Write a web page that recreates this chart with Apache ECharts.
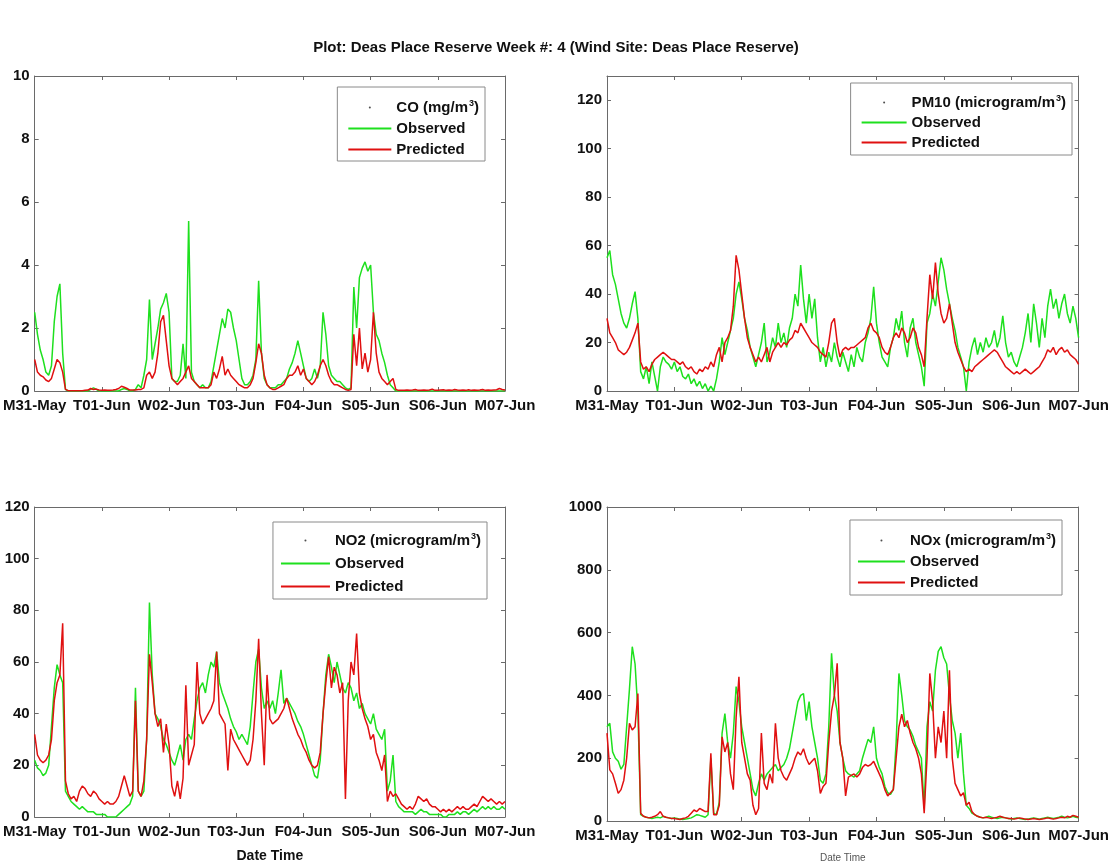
<!DOCTYPE html>
<html><head><meta charset="utf-8">
<script src="https://cdn.jsdelivr.net/npm/echarts@6/dist/echarts.min.js"></script>
<style>html,body{margin:0;padding:0;background:#fff}#c{width:1112px;height:864px}</style>
</head><body><div id="c"></div>
<script>
// x tick labels (one per day, every 24 hours)
const dayLabels = ['M31-May','T01-Jun','W02-Jun','T03-Jun','F04-Jun','S05-Jun','S06-Jun','M07-Jun'];

// hourly values, hour 0 .. 168
const coObserved = [
 2.5,1.8,1.3,1.0,0.6,0.5,0.8,2.2,3.0,3.4,1.2,0.05,
 0,0,0,0,0,0,0,0,0.05,0.1,0.05,0,
 0,0,0,0,0,0,0,0.05,0.08,0.05,0,0,
 0.05,0.2,0.1,0.5,1.0,2.9,1.0,1.5,2.0,2.6,2.8,3.1,
 2.5,0.4,0.3,0.3,0.5,1.5,0.4,5.4,0.6,0.3,0.2,0.1,
 0.2,0.1,0.1,0.3,0.8,1.3,1.8,2.3,2.0,2.6,2.5,2.0,
 1.6,1.0,0.4,0.2,0.2,0.3,0.5,1.0,3.5,1.2,0.4,0.2,
 0.1,0.1,0.1,0.2,0.2,0.3,0.4,0.7,0.9,1.2,1.6,1.2,
 0.8,0.4,0.3,0.4,0.7,0.4,0.8,2.5,1.8,0.8,0.5,0.4,
 0.3,0.3,0.2,0.1,0.05,0.1,3.3,2.0,3.6,3.9,4.1,3.8,
 4.0,2.5,1.8,1.6,1.2,0.9,0.5,0.2,0.1,0,0,0,
 0,0,0,0,0,0,0,0,0,0,0,0,
 0,0,0,0,0,0,0,0,0,0,0,0,
 0,0,0,0,0,0,0,0,0,0,0,0,
 0];
const coPredicted = [
 1.0,0.6,0.5,0.45,0.35,0.3,0.4,0.7,1.0,0.9,0.6,0.05,
 0.01,0.01,0.01,0.01,0.01,0.01,0.02,0.03,0.08,0.05,0.06,0.03,
 0.02,0.03,0.02,0.02,0.03,0.05,0.08,0.15,0.12,0.08,0.03,0.03,
 0.03,0.05,0.05,0.1,0.5,0.6,0.4,0.6,1.2,2.2,2.4,1.6,
 0.8,0.4,0.3,0.2,0.3,0.4,0.6,0.8,0.4,0.3,0.2,0.1,
 0.1,0.1,0.1,0.2,0.6,0.4,0.7,1.1,0.5,0.7,0.5,0.4,
 0.3,0.2,0.15,0.1,0.1,0.2,0.4,0.9,1.5,1.2,0.5,0.2,
 0.1,0.05,0.05,0.1,0.15,0.2,0.4,0.5,0.5,0.6,0.8,0.5,
 0.7,0.4,0.3,0.2,0.3,0.5,0.8,1.0,0.8,0.5,0.3,0.2,
 0.2,0.15,0.1,0.05,0.02,0.05,1.8,0.8,2.0,0.7,1.2,0.6,
 1.0,2.5,1.2,0.6,0.4,0.3,0.2,0.3,0.4,0.05,0.02,0.02,
 0.02,0.03,0.02,0.03,0.05,0.02,0.02,0.03,0.02,0.03,0.06,0.02,
 0.02,0.03,0.04,0.02,0.03,0.02,0.05,0.03,0.02,0.03,0.02,0.04,
 0.02,0.03,0.02,0.03,0.05,0.02,0.03,0.02,0.03,0.04,0.08,0.05,
 0.03];

const pm10Observed = [
 55,58,48,44,38,32,28,26,30,36,41,30,
 8,5,10,3,12,6,0,10,14,12,11,9,
 12,8,10,6,5,7,3,5,2,4,1,3,
 0,2,0,5,12,22,15,20,25,30,40,45,
 38,30,25,18,14,10,15,20,28,12,16,22,
 18,28,20,24,18,26,30,40,35,52,38,28,
 40,30,38,22,12,18,10,16,12,20,14,10,
 16,12,8,15,10,18,14,12,20,24,30,43,
 28,20,14,12,10,18,22,30,25,33,20,14,
 26,30,20,15,10,2,28,32,40,35,45,55,
 50,42,36,30,25,18,14,10,0,12,18,22,
 15,20,16,22,18,20,25,18,22,31,20,14,
 16,12,10,14,18,24,32,20,36,28,18,30,
 22,35,42,34,38,30,36,40,32,28,35,30,
 22];
const pm10Predicted = [
 30,24,22,20,17,16,15,16,18,21,24,28,
 12,9,10,8,11,13,14,15,16,15,14,13,
 13,12,11,12,10,9,10,8,7,9,8,10,
 9,12,10,15,18,12,20,22,25,35,56,50,
 40,30,22,18,15,12,14,12,15,18,12,16,
 18,20,18,20,19,21,22,25,24,28,26,24,
 22,20,19,18,16,15,14,20,28,30,20,14,
 17,18,17,18,18,19,20,21,22,26,28,25,
 24,22,18,16,15,18,22,24,22,26,24,20,
 22,26,24,18,15,10,30,48,38,53,40,32,
 28,30,36,28,20,16,13,10,8,9,8,10,
 11,12,13,14,15,16,17,16,14,12,10,9,
 8,7,8,7,8,9,8,7,8,9,10,12,
 14,17,16,18,15,17,18,16,17,15,14,13,
 11];

const no2Observed = [
 22,19,18,16,17,20,35,50,59,55,52,10,
 8,6,5,4,3,4,3,2,2,2,1,1,
 1,1,0,0,0,0,1,2,3,4,5,8,
 50,10,8,10,30,83,55,40,38,35,30,28,
 25,22,20,24,28,22,30,32,30,38,45,50,
 52,48,55,60,58,64,52,48,45,42,38,35,
 33,30,32,30,28,35,48,60,65,50,42,45,
 42,45,40,48,57,44,46,44,42,40,37,35,
 32,28,24,20,16,15,22,40,55,63,58,52,
 60,55,50,48,52,50,45,48,42,44,40,38,
 36,40,34,32,30,34,10,14,24,6,4,3,
 2,2,2,2,1,2,3,2,2,1,1,1,
 1,1,0,0,1,1,1,2,1,2,2,1,
 2,3,2,3,4,3,4,3,4,3,3,4,
 3];
const no2Predicted = [
 32,24,22,21,22,24,30,45,52,55,75,14,
 9,7,8,6,10,12,11,9,8,10,9,7,
 6,5,6,5,5,6,8,12,16,12,8,10,
 45,10,8,14,30,63,52,40,35,38,25,36,
 28,12,8,14,7,15,51,20,24,28,60,40,
 36,38,40,42,45,64,40,38,36,18,34,30,
 28,26,24,22,20,22,30,45,69,40,20,55,
 38,36,37,38,40,42,46,42,38,35,32,30,
 27,25,22,20,19,20,25,40,52,62,50,58,
 55,48,52,7,45,60,55,71,48,42,38,35,
 30,32,25,22,18,24,6,10,8,9,7,5,
 4,3,4,3,5,8,7,6,7,5,4,4,
 3,2,3,2,3,2,3,4,3,4,3,3,
 4,5,4,6,8,7,6,7,6,5,6,5,
 6];

const noxObserved = [
 300,311,220,200,190,165,180,300,420,555,500,350,
 20,15,12,10,8,10,12,10,15,12,10,8,
 10,8,6,5,6,8,10,15,20,18,15,12,
 20,200,25,20,60,280,342,250,200,280,428,380,
 300,250,200,150,100,80,120,150,130,150,160,170,
 180,160,170,180,200,230,280,330,380,400,406,320,
 380,300,250,200,130,120,150,300,534,400,350,250,
 200,160,150,145,140,150,160,200,230,260,250,300,
 200,170,150,110,90,85,100,250,470,400,320,300,
 290,270,240,220,200,40,300,380,350,480,540,555,
 520,500,400,320,280,200,280,150,50,40,25,20,
 15,12,10,12,15,12,10,8,10,12,10,8,
 6,8,10,8,6,5,6,8,10,8,6,8,
 10,12,10,8,10,12,15,12,10,12,15,12,
 10];
const noxPredicted = [
 280,163,150,120,88,100,130,200,311,290,300,406,
 25,15,12,10,12,15,20,30,15,12,10,8,
 8,6,5,8,10,15,25,35,30,40,35,30,
 30,216,20,20,50,268,220,250,150,100,330,459,
 250,200,150,130,50,20,40,280,120,100,150,120,
 311,200,160,140,130,150,170,200,220,210,230,200,
 180,190,200,160,88,110,120,250,350,400,502,250,
 200,80,140,145,150,140,150,170,180,175,180,190,
 170,150,130,100,80,90,100,200,300,340,300,320,
 280,250,230,200,150,25,200,470,380,200,300,250,
 350,200,480,200,120,100,80,90,50,60,30,20,
 15,12,10,12,10,8,10,12,15,12,10,8,
 8,6,8,10,8,6,5,6,8,6,5,6,
 8,10,8,6,8,10,12,10,15,12,18,15,
 12];

const pollutantNames = ['CO (mg/m3)','PM10 (microgram/m3)','NO2 (microgram/m3)','NOx (microgram/m3)'];
const yMax = [10, 130, 120, 1000];
const yStep = [2, 20, 20, 200];
const HOURS_PER_DAY = 24;
const TOTAL_HOURS = HOURS_PER_DAY * (dayLabels.length - 1);

const FONT = '"Liberation Sans", Arial, Helvetica, sans-serif';
const AXIS_COLOR = '#6a6a6a';
const OBS_COLOR = '#1ee01e';
const PRED_COLOR = '#e01010';

const panels = [
  {obs: coObserved, pred: coPredicted,
   grid: {left: 33, top: 76, width: 472, height: 315},
   legend: {right: 627, top: 87, itemWidth: 43, itemGap: 6, padding: [12, 6, 4, 11]}, xName: null},
  {obs: pm10Observed, pred: pm10Predicted,
   grid: {left: 607, top: 76, width: 473, height: 315},
   legend: {right: 40, top: 83, itemWidth: 45, itemGap: 5, padding: [11, 6, 5, 11]}, xName: null},
  {obs: no2Observed, pred: no2Predicted,
   grid: {left: 33, top: 507, width: 472, height: 314},
   legend: {right: 625, top: 522, itemWidth: 49, itemGap: 8, padding: [10, 6, 5, 8]},
   xName: {fontSize: 14, fontWeight: 'bold', color: '#111'}},
  {obs: noxObserved, pred: noxPredicted,
   grid: {left: 607, top: 507, width: 473, height: 314},
   legend: {right: 50, top: 520, itemWidth: 47, itemGap: 6, padding: [12, 6, 5, 8]},
   xName: {fontSize: 10, fontWeight: 'normal', color: '#555'}}
];

const grids = [], xAxes = [], yAxes = [], series = [], legends = [];
const toPairs = arr => arr.map((v, i) => [i, v]);

panels.forEach((p, g) => {
  grids.push(Object.assign({show: false}, p.grid));
  const xBase = {
    type: 'value', gridIndex: g, min: 0, max: TOTAL_HOURS, interval: HOURS_PER_DAY,
    splitLine: {show: false},
    axisLine: {show: true, onZero: false, lineStyle: {color: AXIS_COLOR, width: 1}},
    axisTick: {show: true, inside: true, length: 4, lineStyle: {color: AXIS_COLOR}}
  };
  const bottom = Object.assign({}, xBase, {
    position: 'bottom',
    axisLabel: {show: true, margin: 7, fontFamily: FONT, fontSize: 15, fontWeight: 'bold', color: '#111',
      showMinLabel: true, showMaxLabel: true,
      formatter: v => dayLabels[Math.round(v / HOURS_PER_DAY)] || ''}
  });
  if (p.xName) {
    bottom.name = 'Date Time';
    bottom.nameLocation = 'middle';
    bottom.nameGap = 32;
    bottom.nameTextStyle = Object.assign({fontFamily: FONT}, p.xName);
  }
  xAxes.push(bottom);
  xAxes.push(Object.assign({}, xBase, {position: 'top', axisLabel: {show: false}}));

  const yBase = {
    type: 'value', gridIndex: g, min: 0, max: yMax[g], interval: yStep[g],
    splitLine: {show: false},
    axisLine: {show: true, onZero: false, lineStyle: {color: AXIS_COLOR, width: 1}},
    axisTick: {show: true, inside: true, length: 4, lineStyle: {color: AXIS_COLOR}}
  };
  yAxes.push(Object.assign({}, yBase, {
    position: 'left',
    axisLabel: {show: true, margin: 5, fontFamily: FONT, fontSize: 15, fontWeight: 'bold', color: '#111',
      showMinLabel: true, showMaxLabel: yMax[g] % yStep[g] === 0,
      formatter: v => String(v)}
  }));
  yAxes.push(Object.assign({}, yBase, {position: 'right', axisLabel: {show: false}}));

  const xi = 2 * g, yi = 2 * g;
  series.push({
    name: pollutantNames[g], type: 'scatter', xAxisIndex: xi, yAxisIndex: yi,
    data: [], symbolSize: 3, itemStyle: {color: '#222'}
  });
  series.push({
    name: 'Observed', type: 'line', xAxisIndex: xi, yAxisIndex: yi,
    data: toPairs(p.obs), symbol: 'none', animation: false,
    lineStyle: {color: OBS_COLOR, width: 1.5}, itemStyle: {color: OBS_COLOR}, z: 2
  });
  series.push({
    name: 'Predicted', type: 'line', xAxisIndex: xi, yAxisIndex: yi,
    data: toPairs(p.pred), symbol: 'none', animation: false,
    lineStyle: {color: PRED_COLOR, width: 1.5}, itemStyle: {color: PRED_COLOR}, z: 3
  });

  legends.push(Object.assign({
    show: true, orient: 'vertical', align: 'left',
    itemHeight: 2, selectedMode: false,
    backgroundColor: '#fff', borderColor: '#8a8a8a', borderWidth: 1,
    data: [
      {name: pollutantNames[g], icon: 'circle', itemStyle: {color: '#222'}},
      {name: 'Observed', icon: 'rect'},
      {name: 'Predicted', icon: 'rect'}
    ],
    formatter: name => name.replace('m3)', 'm{sup|3})'),
    textStyle: {fontFamily: FONT, fontSize: 15, fontWeight: 'bold', color: '#111',
      rich: {sup: {fontFamily: FONT, fontSize: 9, fontWeight: 'bold', color: '#111', padding: [0, 0, 8, 1]}}}
  }, p.legend));
});

const chart = echarts.init(document.getElementById('c'), null, {renderer: 'canvas'});
chart.setOption({
  animation: false,
  backgroundColor: '#fff',
  title: {
    text: 'Plot: Deas Place Reserve Week #: 4 (Wind Site: Deas Place Reserve)',
    left: 'center', top: 35,
    textStyle: {fontFamily: FONT, fontSize: 15, fontWeight: 'bold', color: '#111'}
  },
  grid: grids,
  xAxis: xAxes,
  yAxis: yAxes,
  legend: legends,
  series: series
});
</script>
</body></html>
